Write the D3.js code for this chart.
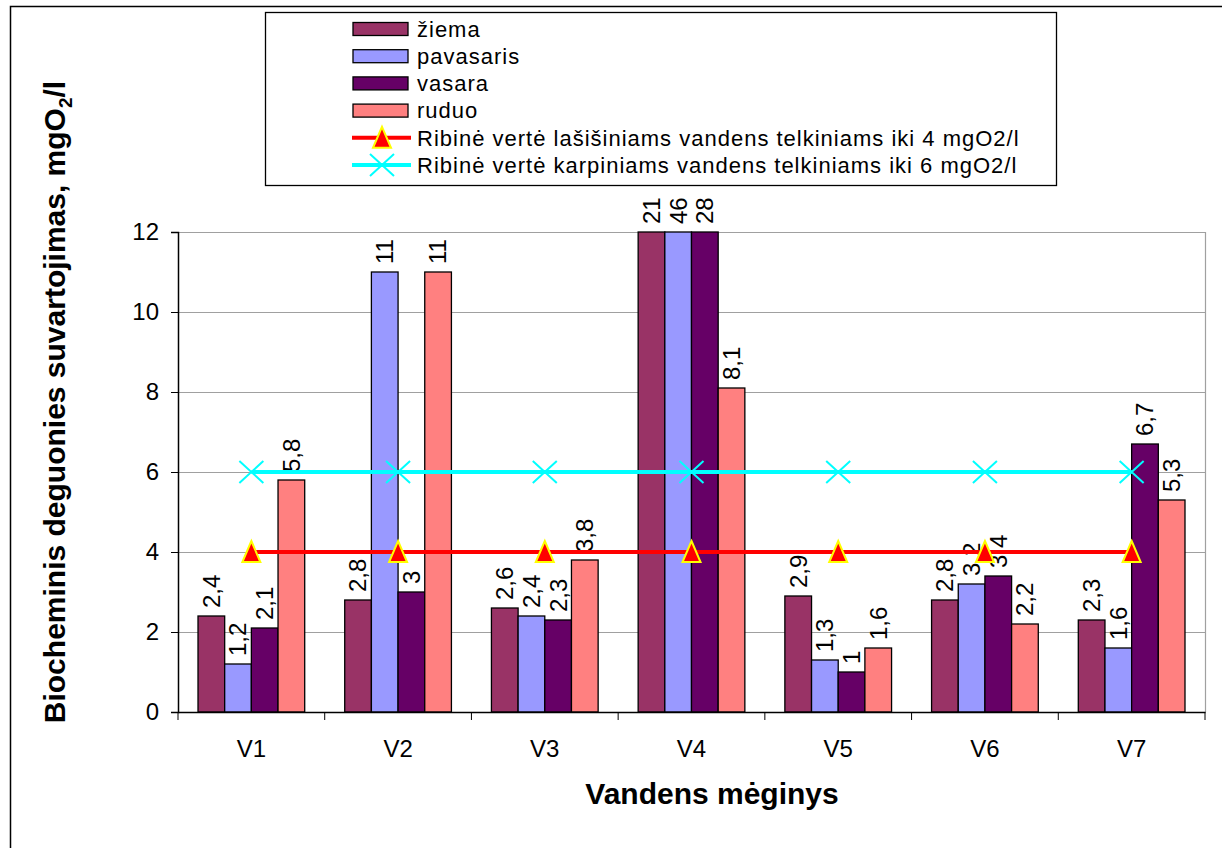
<!DOCTYPE html>
<html>
<head>
<meta charset="utf-8">
<script src="https://cdn.jsdelivr.net/npm/d3@7"></script>
<style>
  body { margin: 0; background: #fff; }
  text { font-family: "Liberation Sans", Arial, sans-serif; fill: #000; }
</style>
</head>
<body>
<div id="grafikas"></div>
<script>
// duomenys
var categories = ["V1", "V2", "V3", "V4", "V5", "V6", "V7"];
var seriesNames = ["žiema", "pavasaris", "vasara", "ruduo"];
var ziema = [2.4, 2.8, 2.6, 21, 2.9, 2.8, 2.3];
var pavasaris = [1.2, 11, 2.4, 46, 1.3, 3.2, 1.6];
var vasara = [2.1, 3, 2.3, 28, 1, 3.4, 6.7];
var ruduo = [5.8, 11, 3.8, 8.1, 1.6, 2.2, 5.3];
var lasisiniai = [4, 4, 4, 4, 4, 4, 4];
var karpiniai = [6, 6, 6, 6, 6, 6, 6];
var yTicks = [0, 2, 4, 6, 8, 10, 12];
var lineNames = ["Ribinė vertė lašišiniams vandens telkiniams iki 4 mgO2/l",
                 "Ribinė vertė karpiniams vandens telkiniams iki 6 mgO2/l"];

var colors = ["#993366", "#9999FF", "#660066", "#FF8080"];
var values = [ziema, pavasaris, vasara, ruduo];

var width = 1222, height = 848;
var margin = {top: 232, right: 17, bottom: 136, left: 178};

var svg = d3.select("#grafikas").append("svg")
    .attr("width", width).attr("height", height);

// rėmelis
svg.append("rect")
    .attr("x", 10.5).attr("y", 6.5)
    .attr("width", 1250).attr("height", 900)
    .attr("fill", "none").attr("stroke", "#000").attr("stroke-width", 1.5);

var x0 = d3.scaleBand().domain(categories)
    .range([margin.left, width - margin.right]).padding(0);
var x1 = d3.scaleBand().domain(seriesNames)
    .range([0, x0.bandwidth()]).paddingInner(0).paddingOuter(0.75);
var y = d3.scaleLinear().domain([0, 12]).range([height - margin.bottom, margin.top]);

// tinklelis
svg.append("g").selectAll("line").data(yTicks.filter(function(d){return d > 0;}))
  .enter().append("line")
    .attr("x1", margin.left).attr("x2", width - margin.right)
    .attr("y1", function(d){return Math.round(y(d)) + 0.5;})
    .attr("y2", function(d){return Math.round(y(d)) + 0.5;})
    .attr("stroke", "#a0a0a0").attr("stroke-width", 1.2);
// dešinė riba
svg.append("line")
    .attr("x1", width - margin.right + 0.5).attr("x2", width - margin.right + 0.5)
    .attr("y1", y(12)).attr("y2", y(0))
    .attr("stroke", "#a0a0a0").attr("stroke-width", 1.2);

// stulpeliai
var groups = svg.append("g").selectAll("g").data(categories).enter().append("g")
    .attr("transform", function(d){return "translate(" + x0(d) + ",0)";});

groups.selectAll("rect").data(function(c, i){
    return seriesNames.map(function(s, j){return {s: s, v: values[j][i], c: colors[j]};});
  }).enter().append("rect")
    .attr("x", function(d){return x1(d.s);})
    .attr("y", function(d){return y(Math.min(d.v, 12));})
    .attr("width", x1.bandwidth())
    .attr("height", function(d){return y(0) - y(Math.min(d.v, 12));})
    .attr("fill", function(d){return d.c;})
    .attr("stroke", "#000").attr("stroke-width", 1.3);

// ašys
var yAxis = svg.append("g")
    .attr("transform", "translate(" + margin.left + ",0)")
    .call(d3.axisLeft(y).tickValues(yTicks).tickSize(7).tickPadding(12));
yAxis.select(".domain").attr("stroke-width", 1.5);
yAxis.selectAll("text").attr("font-size", "24px");

var xAxis = svg.append("g")
    .attr("transform", "translate(0," + y(0) + ")")
    .call(d3.axisBottom(x0).tickSize(0).tickPadding(28));
xAxis.select(".domain").attr("stroke-width", 1.5);
xAxis.selectAll("text").attr("font-size", "24px");
// padalos tarp kategorijų
xAxis.selectAll(".sep").data(categories.concat(["end"])).enter().append("line")
    .attr("x1", function(d, i){return i < categories.length ? x0(d) : x0.range()[1];})
    .attr("x2", function(d, i){return i < categories.length ? x0(d) : x0.range()[1];})
    .attr("y1", 0).attr("y2", 8).attr("stroke", "#000");

// ribinės linijos
var lineGen = d3.line()
    .x(function(d, i){return x0(categories[i]) + x0.bandwidth() / 2;})
    .y(function(d){return y(d);});

svg.append("path").datum(lasisiniai)
    .attr("d", lineGen).attr("fill", "none")
    .attr("stroke", "#FF0000").attr("stroke-width", 4);
svg.append("path").datum(karpiniai)
    .attr("d", lineGen).attr("fill", "none")
    .attr("stroke", "#00FFFF").attr("stroke-width", 4);

function drawTri(g, cx, cy){
    g.append("path")
      .attr("d", "M" + cx + "," + (cy - 11) + "L" + (cx + 9) + "," + (cy + 10) +
                 "L" + (cx - 9) + "," + (cy + 10) + "Z")
      .attr("fill", "#FF0000").attr("stroke", "#FFFF00").attr("stroke-width", 2);
}
function drawX(g, cx, cy){
    g.append("path")
      .attr("d", "M" + (cx - 12) + "," + (cy - 11) + "L" + (cx + 12) + "," + (cy + 11) +
                 "M" + (cx - 12) + "," + (cy + 11) + "L" + (cx + 12) + "," + (cy - 11))
      .attr("stroke", "#00FFFF").attr("stroke-width", 2).attr("fill", "none");
}
var markers = svg.append("g");
lasisiniai.forEach(function(v, i){
    drawTri(markers, x0(categories[i]) + x0.bandwidth() / 2, y(v));
});
karpiniai.forEach(function(v, i){
    drawX(markers, x0(categories[i]) + x0.bandwidth() / 2, y(v));
});

// reikšmių etiketės
groups.selectAll("text.lbl").data(function(c, i){
    return seriesNames.map(function(s, j){return {s: s, v: values[j][i]};});
  }).enter().append("text")
    .attr("class", "lbl")
    .attr("transform", function(d){
        var cx = x1(d.s) + x1.bandwidth() / 2;
        var cy = y(Math.min(d.v, 12)) - 8;
        return "translate(" + cx + "," + cy + ") rotate(-90)";
    })
    .attr("dy", "0.35em")
    .attr("font-size", "24px")
    .text(function(d){return String(d.v).replace(".", ",");});

// ašių pavadinimai
svg.append("text")
    .attr("x", 712).attr("y", 804)
    .attr("text-anchor", "middle").attr("font-size", "30px").attr("font-weight", "bold")
    .text("Vandens mėginys");

var yt = svg.append("text")
    .attr("transform", "translate(65," + 402 + ") rotate(-90)")
    .attr("text-anchor", "middle").attr("font-size", "30px").attr("font-weight", "bold");
yt.append("tspan").text("Biocheminis deguonies suvartojimas, mgO");
yt.append("tspan").attr("font-size", "19px").attr("dy", "7").text("2");
yt.append("tspan").attr("dy", "-7").text("/l");

// legenda
var legend = svg.append("g");
legend.append("rect")
    .attr("x", 265.5).attr("y", 12.5).attr("width", 791).attr("height", 173)
    .attr("fill", "#fff").attr("stroke", "#000").attr("stroke-width", 1.3);

var rowY = d3.scalePoint().domain(d3.range(6)).range([29, 165]);
seriesNames.forEach(function(s, j){
    legend.append("rect")
      .attr("x", 353).attr("y", rowY(j) - 6.5).attr("width", 55).attr("height", 13)
      .attr("fill", colors[j]).attr("stroke", "#000").attr("stroke-width", 1.3);
    legend.append("text")
      .attr("x", 417).attr("y", rowY(j)).attr("dy", "0.35em")
      .attr("font-size", "22px").attr("letter-spacing", "1px").text(s);
});
[["#FF0000", drawTri], ["#00FFFF", drawX]].forEach(function(l, k){
    var ly = rowY(4 + k);
    legend.append("line")
      .attr("x1", 352).attr("x2", 411).attr("y1", ly).attr("y2", ly)
      .attr("stroke", l[0]).attr("stroke-width", 4);
    l[1](legend, 382, ly);
    legend.append("text")
      .attr("x", 417).attr("y", ly).attr("dy", "0.35em")
      .attr("font-size", "22px").attr("letter-spacing", "1px").text(lineNames[k]);
});
</script>
</body>
</html>
